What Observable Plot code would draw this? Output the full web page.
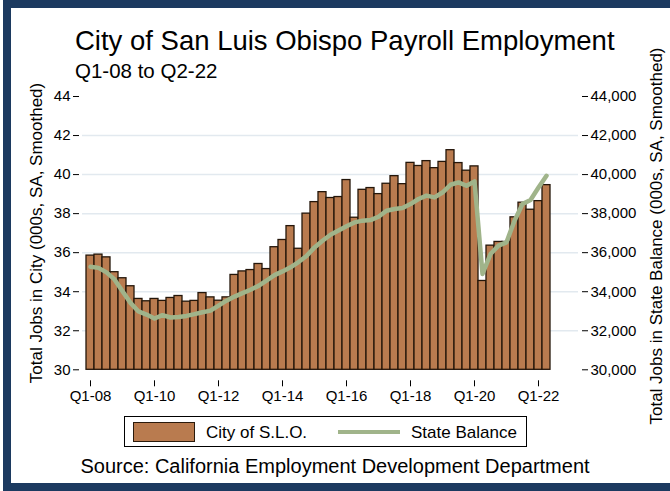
<!DOCTYPE html>
<html><head><meta charset="utf-8">
<script src="https://cdn.jsdelivr.net/npm/d3@7"></script>
<script src="https://cdn.jsdelivr.net/npm/@observablehq/plot@0.6"></script>
<style>
html,body{margin:0;padding:0;background:#fff;overflow:hidden;}
#wrap{position:relative;width:670px;height:491px;overflow:hidden;font-family:"Liberation Sans",Arial,sans-serif;color:#000;}
#frame{position:absolute;left:3px;top:0;width:700px;height:491px;border:8px solid #1c3a60;box-sizing:border-box;pointer-events:none;}
#chart{position:absolute;left:0;top:0;}
.t{position:absolute;white-space:nowrap;line-height:1;}
#title{left:75px;top:27px;font-size:27.5px;}
#subtitle{left:75px;top:61px;font-size:20.5px;}
.ylab{font-size:17px;transform:translate(-50%,-50%) rotate(-90deg);}
#ylabL{left:36px;top:233px;}
#ylabR{left:656px;top:236px;}
#legend{position:absolute;left:124px;top:416px;width:403px;height:31px;border:1px solid #000;box-sizing:border-box;}
#sw1{position:absolute;left:8px;top:5px;width:62px;height:20px;background:#b97b4f;border:1px solid #2a1a0c;box-sizing:border-box;}
#lt1{left:81px;top:7px;font-size:17px;}
#sw2{position:absolute;left:213px;top:13px;width:62px;height:4px;background:#a0b48a;}
#lt2{left:286px;top:7px;font-size:17px;}
#source{left:0;width:670px;text-align:center;top:456px;font-size:20px;}
</style></head>
<body>
<div id="wrap">
  <div id="chart"></div>
  <div id="frame"></div>
  <div class="t" id="title">City of San Luis Obispo Payroll Employment</div>
  <div class="t" id="subtitle">Q1-08 to Q2-22</div>
  <div class="t ylab" id="ylabL">Total Jobs in City (000s, SA, Smoothed)</div>
  <div class="t ylab" id="ylabR">Total Jobs in State Balance (000s, SA, Smoothed)</div>
  <div id="legend">
    <div id="sw1"></div><div class="t" id="lt1">City of S.L.O.</div>
    <div id="sw2"></div><div class="t" id="lt2">State Balance</div>
  </div>
  <div class="t" id="source">Source: California Employment Development Department</div>
</div>
<script>
// Quarters Q1-08 .. Q2-22
const startYear = 2008, nQuarters = 58;
const quarters = [];
for (let i = 0; i < nQuarters; i++) {
  const y = startYear + Math.floor(i / 4);
  quarters.push(`Q${(i % 4) + 1}-${String(y).slice(2)}`);
}
// City of S.L.O. total jobs (000s)
const cityJobs = [35.85,35.90,35.76,35.00,34.69,34.28,33.63,33.51,33.63,33.53,
  33.68,33.78,33.49,33.53,33.93,33.71,33.54,33.71,34.86,35.04,
  35.11,35.42,35.16,36.28,36.65,37.36,36.20,38.00,38.59,39.10,
  38.80,38.85,39.72,37.79,39.22,39.31,39.00,39.53,39.92,39.51,
  40.60,40.44,40.69,40.33,40.65,41.25,40.59,40.20,40.42,34.55,
  36.36,36.55,36.55,37.81,38.56,38.20,38.64,39.46];
// State balance total jobs (000s)
const stateJobs = [35280,35220,34990,34630,34020,33430,32990,32830,32630,32800,
  32680,32710,32760,32850,32950,33030,33290,33540,33750,33930,
  34100,34300,34570,34850,35040,35250,35520,35830,36270,36610,
  36920,37130,37350,37550,37640,37670,37840,38150,38240,38290,
  38490,38750,38920,38830,39080,39480,39600,39430,39650,34910,
  35930,36360,36530,37640,38490,38700,39340,39940];
const xTicks = ["Q1-08","Q1-10","Q1-12","Q1-14","Q1-16","Q1-18","Q1-20","Q1-22"];
const yTicks = [30,32,34,36,38,40,42,44];
const gridTicks = [32,34,36,38,40,42];

const rows = quarters.map((q, i) => ({q, city: cityJobs[i], state: stateJobs[i]}));

const chart = Plot.plot({
  width: 670, height: 491,
  marginTop: 96, marginBottom: 121.7, marginLeft: 82, marginRight: 92,
  style: {fontFamily: "'Liberation Sans', Arial, sans-serif", fontSize: "15px", background: "transparent", color: "#000"},
  x: {type: "band", domain: quarters, paddingInner: 0, paddingOuter: 0.6, align: 0.13},
  y: {domain: [30, 44]},
  marks: [
    Plot.gridY(gridTicks, {stroke: "#e2e9ef", strokeOpacity: 1, strokeWidth: 1.5}),
    Plot.barY(rows, {x: "q", y1: yTicks[0], y2: "city", fill: "#b97b4f", stroke: "#24160a", strokeWidth: 1.3}),
    Plot.line(rows, {x: "q", y: d => d.state / 1000, stroke: "#a0b48a", strokeWidth: 4.5, strokeLinejoin: "round", strokeLinecap: "round"}),
    Plot.axisX({ticks: xTicks, tickSize: 6, tickPadding: 4, dy: 11, label: null, fontSize: 15}),
    Plot.axisY({anchor: "left", ticks: yTicks, tickSize: 6, tickPadding: 3, dx: -3, label: null, fontSize: 15}),
    Plot.axisY({anchor: "right", ticks: yTicks, tickFormat: d => d3.format(",")(d * 1000), tickSize: 6, tickPadding: 3, dx: 3, label: null, fontSize: 15})
  ]
});
document.getElementById("chart").appendChild(chart);
</script>
</body></html>
